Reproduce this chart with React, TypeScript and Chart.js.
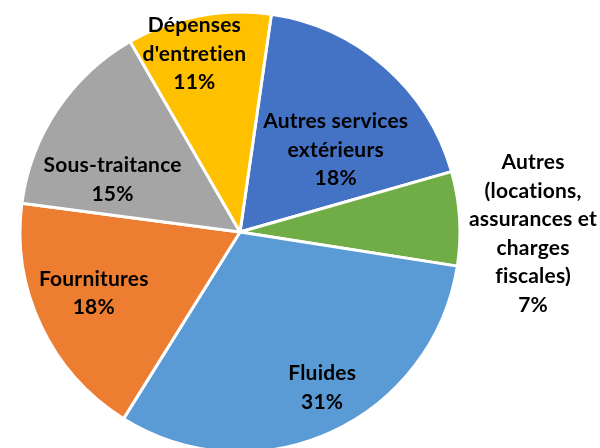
import React, { useEffect, useRef } from "react";
import { Chart, registerables } from "chart.js";

Chart.register(...registerables);

const categories: string[][] = [
  ["Autres services", "extérieurs"],
  ["Autres", "(locations,", "assurances et", "charges", "fiscales)"],
  ["Fluides"],
  ["Fournitures"],
  ["Sous-traitance"],
  ["Dépenses", "d'entretien"],
];
const values: number[] = [18.3, 6.9, 31.4, 18.2, 14.6, 10.6];
const percentLabels: string[] = ["18%", "7%", "31%", "18%", "15%", "11%"];
const colors: string[] = ["#4472C4", "#70AD47", "#5B9BD5", "#ED7D31", "#A5A5A5", "#FFC000"];

// label placement (style): radial factor of outer radius, and fraction across the slice angle
const labelRadius: number[] = [0.576, 1.332, 0.797, 0.719, 0.627, 0.839];
const labelAngleFrac: number[] = [0.62, 0.65, 0.47, 0.544, 0.286, 0.41];

const FONT_SIZE = 21;
const LINE_H = 28.5;
const CAP_H = FONT_SIZE * 0.72;

const labelPlugin = {
  id: "sliceLabels",
  afterDatasetsDraw(chart: any) {
    const ctx = chart.ctx as CanvasRenderingContext2D;
    const meta = chart.getDatasetMeta(0);
    ctx.save();
    ctx.font = `bold ${FONT_SIZE}px Lato, "Noto Sans", sans-serif`;
    (ctx as any).letterSpacing = "0.2px";
    ctx.fillStyle = "#000000";
    ctx.textAlign = "center";
    ctx.textBaseline = "alphabetic";
    meta.data.forEach((arc: any, i: number) => {
      const p = arc.getProps(["x", "y", "startAngle", "endAngle", "outerRadius"], true);
      const a = p.startAngle + (p.endAngle - p.startAngle) * labelAngleFrac[i];
      const r = p.outerRadius * labelRadius[i];
      const cx = p.x + Math.cos(a) * r;
      const cy = p.y + Math.sin(a) * r;
      const lines = [...categories[i], percentLabels[i]];
      const h = CAP_H + (lines.length - 1) * LINE_H;
      let y = cy - h / 2 + CAP_H;
      lines.forEach((ln) => {
        ctx.fillText(ln, cx, y);
        y += LINE_H;
      });
    });
    ctx.restore();
  },
};

export default function App() {
  const ref = useRef<HTMLCanvasElement | null>(null);
  useEffect(() => {
    if (!ref.current) return;
    const chart = new Chart(ref.current, {
      type: "pie",
      data: {
        labels: categories.map((c) => c.join(" ")),
        datasets: [
          {
            data: values,
            backgroundColor: colors,
            borderColor: "#ffffff",
            borderWidth: 3,
          },
        ],
      },
      options: {
        responsive: false,
        animation: false,
        rotation: 8.2,
        radius: 220,
        layout: { padding: { left: 0, right: 120, top: 0, bottom: 0 } },
        plugins: {
          legend: { display: false },
          tooltip: { enabled: false },
        },
      },
      plugins: [labelPlugin],
    });
    return () => chart.destroy();
  }, []);
  return (
    <div style={{ position: "fixed", left: 0, top: 0, width: 600, height: 448, overflow: "hidden", background: "#fff" }}>
      <canvas ref={ref} width={600} height={464} style={{ display: "block" }} />
    </div>
  );
}
